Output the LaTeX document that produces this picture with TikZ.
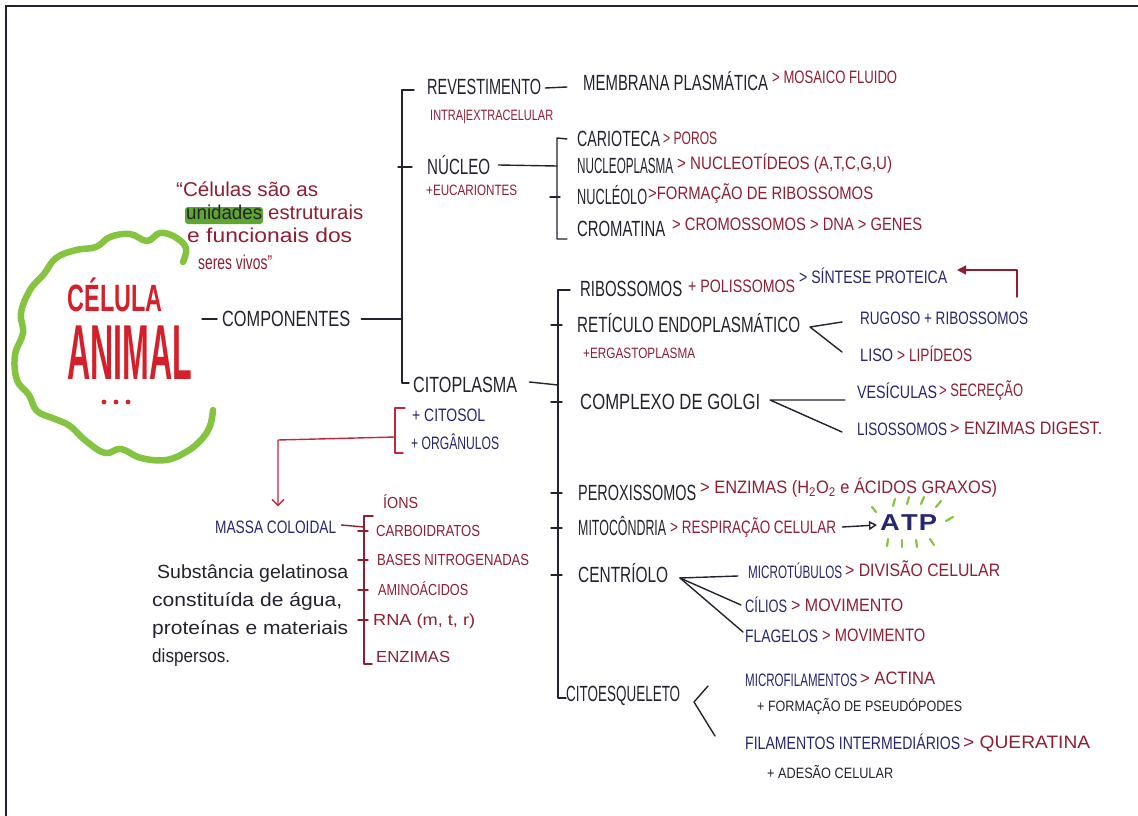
\documentclass[tikz,border=0pt]{standalone}
\usepackage{fontspec}
\usepackage{graphicx}
\setmainfont{Liberation Sans}
\newfontfamily\handbig[FakeStretch=0.70]{Liberation Sans}
\newfontfamily\handmid[FakeStretch=0.80]{Liberation Sans}
\newfontfamily\handlow{Liberation Sans}
\usetikzlibrary{arrows.meta,calc}

% stretch or squeeze a text horizontally to a given width, keeping its height
\newsavebox\fwbox
\newcommand{\fw}[2]{\sbox\fwbox{#2}\pgfmathsetmacro\fwfac{#1/\wd\fwbox}\scalebox{\fwfac}[1]{\usebox\fwbox}}

\definecolor{ink}{HTML}{23232E}
\definecolor{wine}{HTML}{8E1F33}
\definecolor{navy}{HTML}{26276E}
\definecolor{titlered}{HTML}{D4202A}
\definecolor{leaf}{HTML}{84C441}
\definecolor{leafdark}{HTML}{5EA62F}
\definecolor{bracketred}{HTML}{C2283C}

\tikzset{
  big/.style={inner sep=0pt, anchor=west, text=ink,
    font=\handbig\fontsize{22}{24}\selectfont, text height=15.5pt, text depth=0pt},
  mid/.style={inner sep=0pt, anchor=west, text=wine,
    font=\handmid\fontsize{18}{20}\selectfont, text height=13pt, text depth=0pt},
  lst/.style={mid, font=\handmid\fontsize{16}{18}\selectfont, text height=11.5pt},
  sml/.style={inner sep=0pt, anchor=west, text=wine,
    font=\handbig\fontsize{15}{17}\selectfont, text height=10.5pt, text depth=0pt},
  low/.style={inner sep=0pt, anchor=base west, text=ink,
    font=\handlow\fontsize{19}{21}\selectfont},
  quote/.style={low, text=wine, font=\handlow\fontsize{20}{22}\selectfont},
  title/.style={inner sep=0pt, text=titlered, text depth=0pt},
  wire/.style={draw=ink, line width=1.4pt, line cap=round, line join=round},
  redwire/.style={wire, draw=bracketred},
  winewire/.style={wire, draw=wine},
  spark/.style={draw=leaf, line width=2.2pt, line cap=round},
}

\begin{document}
\begin{tikzpicture}[x=1pt, y=-1pt]
\useasboundingbox (0,0) rectangle (1138,816);
\fill[white] (0,0) rectangle (1138,816);
% frame
\draw[ink, line width=2.4pt] (6,816) -- (6,6) -- (1138,6);

% ---------- title cloud ----------
\draw[leaf, line width=6.5pt, line cap=round, line join=round]
  plot[smooth, tension=0.65] coordinates {
    (183,262) (186,248) (175,237) (160,233) (147,241) (130,234) (110,237)
    (96,247) (76,250) (56,258) (44,274) (30,290) (21,313) (23,333)
    (15,355) (17,380) (29,395) (37,411) (55,419) (70,426) (86,441)
    (105,453) (121,449) (141,458) (166,460) (186,452) (201,440)
    (210,426) (213,410)};
\node[title, text height=27pt] (celula) at (115,298)
  {\fw{95}{\fontsize{38}{38}\selectfont\bfseries CÉLULA}};
\node[title, text height=56pt] (animal) at (130,351)
  {\fw{125}{\fontsize{78}{78}\selectfont\bfseries ANIMAL}};
% the ellipsis under the title
\foreach \dx in {104,116,128}
  \fill[titlered] (\dx,402) circle (2.4pt);

% ---------- quote ----------
\node[quote] (q1) at (176,196) {\fw{142}{“Células são as}};
\fill[leafdark, rounded corners=3pt] (185,207) rectangle (263,224);
\node[low, text=ink, font=\handlow\fontsize{20}{22}\selectfont] (q2a) at (186,219) {\fw{76}{unidades}};
\node[quote] (q2b) at (268,219) {\fw{95}{estruturais}};
\node[quote] (q3) at (187,242) {\fw{165}{e funcionais dos}};
\node[quote] (q4) at (198,269) {\fw{74}{seres vivos”}};

% ---------- main branch ----------
\node[big] (comp) at (222,319) {\fw{128}{COMPONENTES}};
\draw[wire] ($(comp.west)+(-20,0)$) -- ($(comp.west)+(-5,0)$);
\coordinate (mtop) at (402,90);
\coordinate (mbot) at (402,383);
\draw[wire] ($(comp.east)+(11,0)$) -- (mtop |- comp.east);

\node[big] (rev) at (427,87) {\fw{114}{REVESTIMENTO}};
\node[big] (nuc) at (427,167) {\fw{63}{NÚCLEO}};
\node[big] (cito) at (413,385) {\fw{104}{CITOPLASMA}};
\draw[wire] ($(rev.west)+(-13,3)$) -- (mtop) -- (mbot) -- ($(cito.west)+(-4,-2)$);
\draw[wire] ($(nuc.west)+(-29,0)$) -- ($(nuc.west)+(-15,0)$);

% revestimento
\node[big] (memb) at (583,83) {\fw{185}{MEMBRANA PLASMÁTICA}};
\node[mid] (mosaico) at (772,77) {\fw{125}{> MOSAICO FLUIDO}};
\node[sml] (intra) at (430,115) {\fw{123}{INTRA|EXTRACELULAR}};
\draw[wire] ($(rev.east)+(4,1)$) -- ($(memb.west)+(-16,4)$);

% nucleo
\node[sml] (euc) at (426,190) {\fw{91}{+EUCARIONTES}};
\coordinate (ntop) at (557,138);
\coordinate (nbot) at (557,239);
\node[big] (cario) at (577,139) {\fw{83}{CARIOTECA}};
\node[mid] (poros) at (663,138) {\fw{54}{> POROS}};
\node[big] (nplasma) at (577,166) {\fw{96}{NUCLEOPLASMA}};
\node[mid] (nucleot) at (677,163) {\fw{215}{> NUCLEOTÍDEOS (A,T,C,G,U)}};
\node[big] (nucleolo) at (577,197) {\fw{70}{NUCLÉOLO}};
\node[mid] (formacao) at (648,193) {\fw{225}{>FORMAÇÃO DE RIBOSSOMOS}};
\node[big] (croma) at (577,229) {\fw{88}{CROMATINA}};
\node[mid] (cromoss) at (672,224) {\fw{250}{> CROMOSSOMOS > DNA > GENES}};
\draw[wire] ($(cario.west)+(-10,0)$) -- (ntop) -- (nbot) -- ++(10,0);
\draw[wire] ($(nuc.east)+(8,-2)$) -- (ntop |- nplasma.west);
\draw[wire] ($(ntop |- nucleolo.west)+(-7,0)$) -- ($(ntop |- nucleolo.west)+(3,0)$);

% ---------- citoplasma ----------
\coordinate (ctop) at (558,290);
\coordinate (cbot) at (558,698);
\draw[wire] ($(cito.east)+(12,-3)$) -- (ctop |- cito.east);
\node[big] (ribo) at (580,289) {\fw{102}{RIBOSSOMOS}};
\node[mid] (polis) at (688,286) {\fw{107}{+ POLISSOMOS}};
\node[mid, text=navy] (sintese) at (799,277) {\fw{148}{> SÍNTESE PROTEICA}};
\draw[wire] ($(ribo.west)+(-10,1)$) -- (ctop) -- (cbot) -- ++(8,0);

\node[big] (ret) at (577,325) {\fw{223}{RETÍCULO ENDOPLASMÁTICO}};
\node[sml] (ergasto) at (583,353) {\fw{112}{+ERGASTOPLASMA}};
\node[mid, text=navy] (rugoso) at (860,318) {\fw{168}{RUGOSO + RIBOSSOMOS}};
\node[mid, text=navy] (liso) at (860,355) {\fw{33}{LISO}};
\node[mid] (lipid) at (897,355) {\fw{75}{> LIPÍDEOS}};
\coordinate (refork) at (810,327);
\draw[wire] ($(rugoso.west)+(-18,4)$) -- (refork) -- ($(liso.west)+(-18,-3)$);
\coordinate (rugup) at (1017,297);
\coordinate (sintip) at (957,270);
\draw[winewire, -{Triangle[length=9pt,width=9pt]}] (rugup) |- (sintip);

\node[big] (golgi) at (580,402) {\fw{180}{COMPLEXO DE GOLGI}};
\node[mid, text=navy] (vesic) at (857,392) {\fw{80}{VESÍCULAS}};
\node[mid] (secrec) at (939,390) {\fw{84}{> SECREÇÃO}};
\node[mid, text=navy] (lisoss) at (857,429) {\fw{90}{LISOSSOMOS}};
\node[mid] (enzdig) at (950,428) {\fw{152}{> ENZIMAS DIGEST.}};
\coordinate (gfork) at (770,400);
\draw[wire] ($(vesic.west)+(-12,8)$) -- (gfork) -- ($(lisoss.west)+(-15,3)$);

\node[big] (perox) at (578,493) {\fw{118}{PEROXISSOMOS}};
\node[mid] (enzper) at (700,487) {\fw{297}{> ENZIMAS (H\textsubscript{2}O\textsubscript{2} e ÁCIDOS GRAXOS)}};

\node[big] (mito) at (578,528) {\fw{88}{MITOCÔNDRIA}};
\node[mid] (resp) at (670,527) {\fw{166}{> RESPIRAÇÃO CELULAR}};
\node[inner sep=0pt, anchor=west, text=navy] (atp) at (880,523)
  {\fw{57}{\fontsize{23}{23}\selectfont\bfseries A\kern1pt T\kern1pt P}};
\draw[wire, -{Triangle[open,length=8pt,width=9pt]}] ($(resp.east)+(6,0)$) -- ($(atp.west)+(-3,2)$);
\foreach \a/\b in {{(893,506)}/{(895,499)}, {(907,504)}/{(909,497)}, {(921,504)}/{(924,497)},
                   {(936,507)}/{(941,501)}, {(946,521)}/{(953,517)}, {(888,539)}/{(887,546)},
                   {(902,540)}/{(902,547)}, {(916,540)}/{(917,547)}, {(930,539)}/{(934,545)},
                   {(876,512)}/{(872,507)}}
  \draw[spark] \a -- \b;

\node[big] (centr) at (578,575) {\fw{90}{CENTRÍOLO}};
\node[mid, text=navy] (microt) at (748,572) {\fw{94}{MICROTÚBULOS}};
\node[mid] (divis) at (845,570) {\fw{155}{> DIVISÃO CELULAR}};
\node[mid, text=navy] (cilios) at (745,606) {\fw{42}{CÍLIOS}};
\node[mid] (mov1) at (791,605) {\fw{112}{> MOVIMENTO}};
\node[mid, text=navy] (flag) at (745,636) {\fw{73}{FLAGELOS}};
\node[mid] (mov2) at (822,635) {\fw{103}{> MOVIMENTO}};
\coordinate (cfork) at (680,578);
\draw[wire] (cfork) -- ($(microt.west)+(-10,4)$);
\draw[wire] (cfork) -- ($(cilios.west)+(-4,-1)$);
\draw[wire] (cfork) -- ($(flag.west)+(-2,-4)$);

% short ticks where the branches leave the cytoplasm bracket
\foreach \n in {ret, golgi, perox, mito, centr}
  \draw[wire] ($(ctop |- \n.west)+(-7,0)$) -- ($(ctop |- \n.west)+(4,0)$);

\node[big] (citoesq) at (566,694) {\fw{114}{CITOESQUELETO}};
\node[mid, text=navy] (microf) at (745,680) {\fw{112}{MICROFILAMENTOS}};
\node[mid] (actina) at (860,678) {\fw{75}{> ACTINA}};
\node[sml, text=ink] (pseudo) at (757,706) {\fw{205}{+ FORMAÇÃO DE PSEUDÓPODES}};
\node[mid, text=navy] (filint) at (745,743) {\fw{215}{FILAMENTOS INTERMEDIÁRIOS}};
\node[mid] (querat) at (963,742) {\fw{127}{> QUERATINA}};
\node[sml, text=ink] (adesao) at (767,773) {\fw{126}{+ ADESÃO CELULAR}};
\coordinate (esqv) at (694,702);
\coordinate (esqa) at (708,686);
\coordinate (esqb) at (715,736);
\draw[wire] (esqa) -- (esqv) -- (esqb);

% ---------- citosol / organulos ----------
\node[mid, text=navy] (citosol) at (412,415) {\fw{73}{+ CITOSOL}};
\node[mid, text=navy] (organ) at (411,443) {\fw{88}{+ ORGÂNULOS}};
\coordinate (rtop) at (395,408);
\coordinate (rbot) at (395,453);
\coordinate (rmid) at (395,437);
\coordinate (rcorner) at (278,440);
\draw[redwire] ($(citosol.west)+(-7,-7)$) -- (rtop) -- (rbot) -- ++(8,0);
\node[mid, text=navy] (massa) at (215,527) {\fw{121}{MASSA COLOIDAL}};
\draw[redwire, -{Straight Barb[length=6pt,width=12pt]}] (rmid) -- (rcorner) -- ($(rcorner |- massa.north)+(0,-14)$);

% ---------- massa coloidal ----------
\coordinate (ltop) at (364,516);
\coordinate (lbot) at (364,664);
\node[lst] (ions) at (383,503) {\fw{35}{ÍONS}};
\node[lst] (carbo) at (376,531) {\fw{104}{CARBOIDRATOS}};
\node[lst] (bases) at (377,560) {\fw{152}{BASES NITROGENADAS}};
\node[lst] (amino) at (378,590) {\fw{90}{AMINOÁCIDOS}};
\node[lst] (rna) at (373,620) {\fw{102}{RNA (m, t, r)}};
\node[lst] (enzim) at (376,657) {\fw{74}{ENZIMAS}};
\draw[winewire] (373,516) -- (ltop) -- (lbot) -- ++(8,0);
\draw[winewire] ($(massa.east)+(5,-2)$) -- (ltop |- massa.east);
\foreach \n in {carbo, bases, amino, rna}
  \draw[winewire] ($(ltop |- \n.west)+(-6,0)$) -- ($(ltop |- \n.west)+(4,0)$);

\node[low] (d1) at (157,578) {\fw{191}{Substância gelatinosa}};
\node[low] (d2) at (152,606) {\fw{190}{constituída de água,}};
\node[low] (d3) at (152,634) {\fw{196}{proteínas e materiais}};
\node[low] (d4) at (152,662) {\fw{78}{dispersos.}};
\end{tikzpicture}
\end{document}
